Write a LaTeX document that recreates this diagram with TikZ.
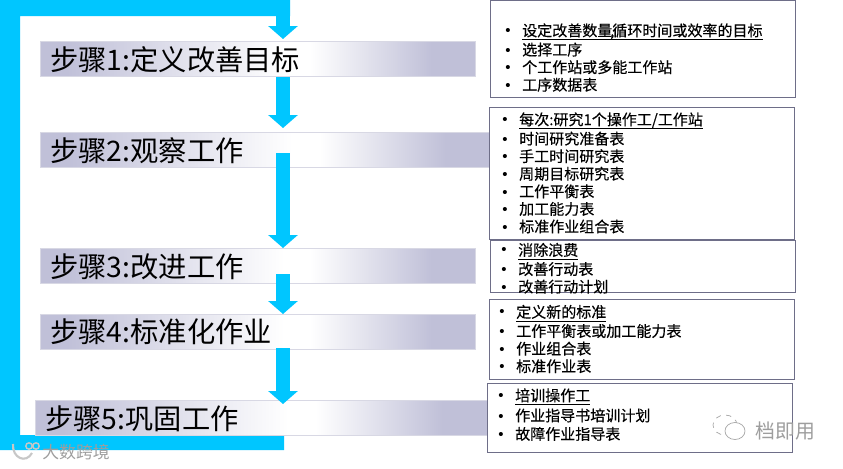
\documentclass[tikz,border=0pt]{standalone}
\usepackage{fontspec}
\setmainfont{Noto Sans CJK SC}
\newfontfamily\listfont[FakeBold=0.35]{Noto Sans CJK SC}
\newfontfamily\bulletfont{Liberation Sans}
\usepackage{tikz}
\usetikzlibrary{arrows.meta}
\definecolor{framecyan}{HTML}{00C6FF}
\definecolor{stepblue}{HTML}{C0C0D8}
\definecolor{stepedge}{HTML}{D8D8E4}
\definecolor{boxedge}{HTML}{6E6E88}
\pgfdeclarehorizontalshading{stepshade}{100bp}{
  color(0bp)=(stepblue); color(28bp)=(stepblue); color(53bp)=(white); color(56bp)=(white); color(70bp)=(stepblue); color(100bp)=(stepblue)}
\newcommand{\bul}{\makebox[9.6pt][l]{{\bulletfont •}}}
\newcommand{\ulitem}[1]{\underline{\raisebox{-0.6pt}[\height][1.3pt]{#1}}}

\begin{document}
\begin{tikzpicture}[
      x=0.02cm, y=-0.02cm,
      stepbar/.style={draw=stepedge, shading=stepshade, minimum height=0.7cm, inner sep=0pt, anchor=north west},
      steptext/.style={font=\fontsize{16.1}{18}\selectfont, anchor=west, inner sep=0pt},
      listbox/.style={draw=boxedge, line width=0.6pt, fill=white, anchor=north west, inner sep=0pt},
      listtext/.style={font=\listfont\fontsize{8.55}{10}\selectfont, align=left, anchor=north west, inner sep=0pt},
      flow/.style={-{Triangle[width=0.58cm, length=0.26cm]}, line width=0.3cm, framecyan},
      mark text/.style={text=black!38, inner sep=0pt}
    ]
    \useasboundingbox (0,0) rectangle (843,468);
    \fill[white] (0,0) rectangle (843,468);

    % cyan frame and first arrow
    \fill[framecyan] (0,0) -- (290,0) -- (290,16) -- (20,16) -- (20,435) -- (284,435) -- (284,450) -- (0,450) -- cycle;
    \coordinate (top0) at (283,14);
    \coordinate (top1) at (283,39);
    \draw[flow] (top0) -- (top1);

    \node[stepbar, minimum width=8.7cm] (step1) at (40,41) {};
    \node[stepbar, minimum width=9.0cm] (step2) at (40,132) {};
    \node[stepbar, minimum width=8.7cm] (step3) at (40,248) {};
    \node[stepbar, minimum width=8.7cm] (step4) at (40,314) {};
    \node[stepbar, minimum width=9.04cm] (step5) at (35,400) {};

    \node[steptext] (title1) at (50,60) {步骤1:定义改善目标};
    \node[steptext] (title2) at (50,151) {步骤2:观察工作};
    \node[steptext] (title3) at (50,267) {步骤3:改进工作};
    \node[steptext] (title4) at (50,332) {步骤4:标准化作业};
    \node[steptext] (title5) at (45,419) {步骤5:巩固工作};

    \coordinate (a1s) at (283,77);
    \coordinate (a1e) at (283,128);
    \coordinate (a2s) at (283,153);
    \coordinate (a2e) at (283,248);
    \coordinate (a3s) at (283,274);
    \coordinate (a3e) at (283,314);
    \coordinate (a4s) at (283,348);
    \coordinate (a4e) at (283,404);
    \draw[flow] (a1s) -- (a1e);
    \draw[flow] (a2s) -- (a2e);
    \draw[flow] (a3s) -- (a3e);
    \draw[flow] (a4s) -- (a4e);

    % lists on the right
    \node[listbox, minimum width=6.1cm, minimum height=1.94cm] (box1) at (490,0) {};
    \node[listbox, minimum width=6.1cm, minimum height=2.65cm] (box2) at (489,106.5) {};
    \node[listbox, minimum width=6.1cm, minimum height=1.05cm] (box3) at (490,239.5) {};
    \node[listbox, minimum width=6.1cm, minimum height=1.6cm] (box4) at (489,299) {};
    \node[listbox, minimum width=6.1cm, minimum height=1.38cm] (box5) at (487,383) {};

    \node[listtext] (list1) at (505,22) {\bul\ulitem{设定改善数量\kern-1.2pt,\kern-1.2pt循环时间或效率的目标}\\\bul 选择工序\\\bul 个工作站或多能工作站\\\bul 工序数据表};
    \node[listtext] (list2) at (502,111) {\bul\ulitem{每次:研究1个操作工/工作站}\\\bul 时间研究准备表\\\bul 手工时间研究表\\\bul 周期目标研究表\\\bul 工作平衡表\\\bul 加工能力表\\\bul 标准作业组合表};
    \node[listtext] (list3) at (501,241.5) {\bul\ulitem{消除浪费}\\\bul 改善行动表\\\bul 改善行动计划};
    \node[listtext] (list4) at (499,303.5) {\bul\ulitem{定义新的标准}\\\bul 工作平衡表或加工能力表\\\bul 作业组合表\\\bul 标准作业表};
    \node[listtext] (list5) at (498,387) {\bul\ulitem{培训操作工}\\[0.5pt]\bul 作业指导书培训计划\\[0.5pt]\bul 故障作业指导表};

    % watermarks
    \draw[black!22, line width=1.2pt] (13,444) .. controls (12,458) and (26,464) .. (32,453);
    \draw[black!22, line width=0.8pt] (29,446) circle (3.2) (36,446) circle (3.2);
    \node[mark text, font=\fontsize{9.6}{11}\selectfont, anchor=west] (wmleft) at (42,452) {大数跨境};
    \draw[black!35, line width=0.4pt, dashed] (725,425) ellipse (12 and 10);
    \draw[black!35, line width=0.4pt, fill=white] (735,431) ellipse (10 and 8.5);
    \node[mark text, font=\fontsize{11.3}{13}\selectfont, anchor=west] (wmright) at (755,431) {档即用};
  \end{tikzpicture}
\end{document}
